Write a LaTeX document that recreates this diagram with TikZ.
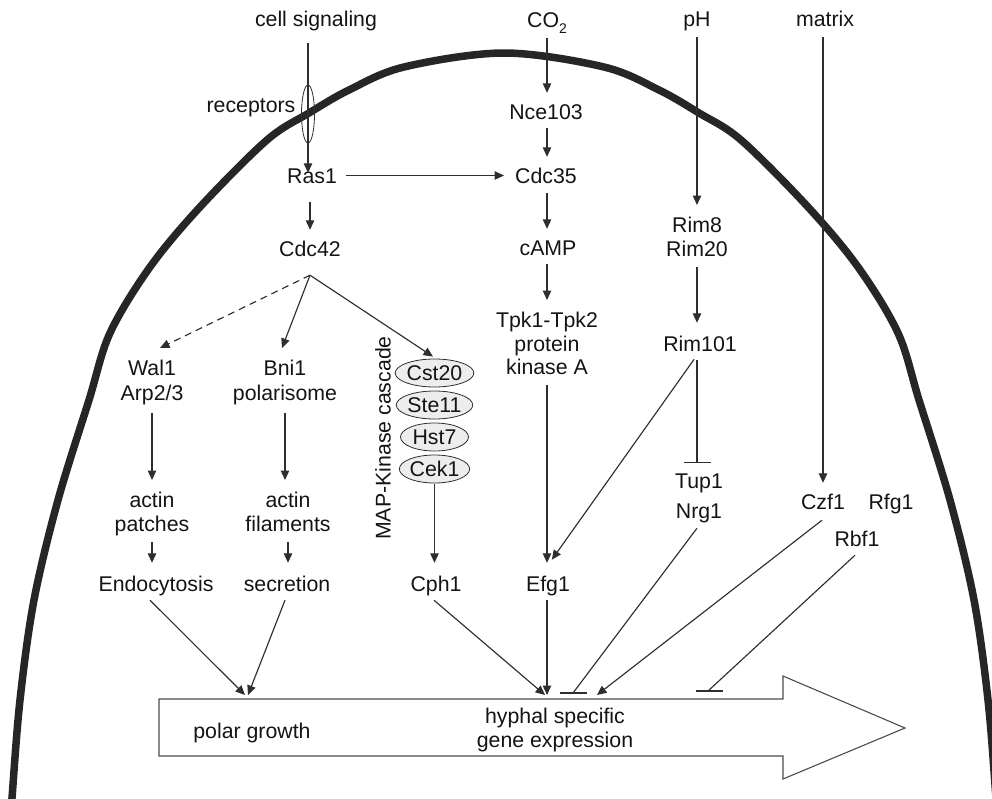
\documentclass[tikz,border=0pt]{standalone}
\usepackage{fontspec}
\setmainfont{Liberation Sans}
\usetikzlibrary{arrows.meta,shapes.geometric}
\newcommand\fsz{\fontsize{21.3}{23.5}\selectfont}
\definecolor{ink}{HTML}{2E2E2E}
\begin{document}
\begin{tikzpicture}[x=1pt,y=-1pt,
  txt/.style={font=\fsz, inner sep=0pt, text height=15pt, text depth=4pt, anchor=base, text=black!92},
  mtxt/.style={font=\fsz, inner sep=0pt, align=center, anchor=north, text=black!92},
  conn/.style={draw=ink, line width=1.15pt},
  arr/.style={conn, -{Triangle[length=9.5pt,width=8.5pt]}},
  inh/.style={conn, -{Bar[width=27pt]}},
  kin/.style={ellipse, draw=ink, line width=0.8pt, fill=black!7, minimum width=68pt, minimum height=28pt, inner sep=0pt, font=\fsz, text=black!92},
  membrane/.style={line width=7.5pt, black!85}
]
\useasboundingbox (0,0) rectangle (992,798);
% cell outline
\begin{scope}
\clip (0,0) rectangle (992,798);
\draw[membrane] plot[smooth, tension=0.55] coordinates {(9,840) (12,798) (20,700) (34,600) (58,500) (89,400) (110,333) (150,267) (200,207) (267,140) (309,113) (349,90) (404,67) (504,53) (604,67) (659,90) (699,113) (741,140) (808,207) (858,267) (898,333) (919,400) (950,500) (974,600) (988,700) (996,798) (999,840)};
\end{scope}

% big arrow
\draw[draw=black!70, line width=1.1pt, fill=white] (159,699) -- (783,699) -- (783,676) -- (905,728) -- (783,779) -- (783,756) -- (159,756) -- cycle;

% nodes
\node[txt] (cs) at (316,26) {cell signaling};
\node[txt] (co2) at (547,27) {CO\raisebox{-6pt}{\fontsize{14}{14}\selectfont 2}};
\node[txt] (ph) at (697,26) {pH};
\node[txt] (mat) at (825,26) {matrix};
\node[draw=ink, line width=0.8pt, ellipse, minimum width=13pt, minimum height=58pt, inner sep=0pt] (rec) at (308,114) {};
\node[txt] (recl) at (251,112) {receptors};
\node[txt] (ras) at (312,183) {Ras1};
\node[txt] (nce) at (546,119) {Nce103};
\node[txt] (cdc35) at (546,183) {Cdc35};
\node[txt] (cdc42) at (310,256) {Cdc42};
\node[txt] (camp) at (548,255) {cAMP};
\node[mtxt] (rim8) at (697,217) {Rim8\\Rim20};
\node[mtxt] (tpk) at (547,312) {Tpk1-Tpk2\\protein\\kinase A};
\node[txt] (rim101) at (700,351) {Rim101};
\node[mtxt] (wal) at (152,360) {Wal1\\[1.5pt]Arp2/3};
\node[mtxt] (bni) at (285,360) {Bni1\\[1.5pt]polarisome};
\node[kin] (cst) at (434.5,373) {Cst20};
\node[kin] (ste) at (434.5,405) {Ste11};
\node[kin] (hst) at (434.5,437) {Hst7};
\node[kin] (cek) at (434.5,469) {Cek1};
\node[font=\fsz, rotate=90, inner sep=0pt, text=black!92] (mapk) at (383,438) {MAP-Kinase cascade};
\node[mtxt] (actL) at (152,492) {actin\\patches};
\node[mtxt] (actR) at (288,492) {actin\\filaments};
\node[txt] (endo) at (156,591) {Endocytosis};
\node[txt] (sec) at (287,591) {secretion};
\node[txt] (cph) at (436,591) {Cph1};
\node[txt] (efg) at (548,591) {Efg1};
\node[txt] (tup) at (699,488) {Tup1};
\node[txt] (nrg) at (699,518) {Nrg1};
\node[txt] (czf) at (823,509) {Czf1};
\node[txt] (rfg) at (891,509) {Rfg1};
\node[txt] (rbf) at (857,546) {Rbf1};
\node[txt] (pg) at (252,738) {polar growth};
\node[mtxt] (hy) at (555,708) {hyphal specific\\gene expression};

% target points on the big arrow
\coordinate (pgA) at (245,695);
\coordinate (pgB) at (248,695);
\coordinate (hyA) at (545,695);
\coordinate (hyB) at (547,695);
\coordinate (hyN) at (573,693);
\coordinate (hyC) at (597,695);
\coordinate (hyR) at (708,691);

% connectors
\draw[arr, shorten <=13pt, shorten >=-5pt] (cs.south -| rec) -- (ras.north -| rec);
\draw[arr, shorten <=15pt, shorten >=11pt] (ras.south -| cdc42) -- (cdc42.north);
\draw[arr, shorten <=9pt, shorten >=11pt] ([yshift=2pt]ras.east) -- ([yshift=2pt]cdc35.west);
\draw[arr, shorten <=7pt, shorten >=11pt] (co2.south) -- (nce.north -| co2);
\draw[arr, shorten <=5pt, shorten >=11pt] (nce.south -| co2) -- (cdc35.north -| co2);
\draw[arr, shorten <=6pt, shorten >=11pt] (cdc35.south -| co2) -- (camp.north -| co2);
\draw[arr, shorten <=5pt, shorten >=12pt] (camp.south -| co2) -- (tpk.north -| co2);
\draw[arr, shorten <=10pt, shorten >=13pt] (tpk.south -| co2) -- (efg.north -| co2);
\draw[arr, shorten <=7pt, shorten >=12pt] (ph.south) -- (rim8.north);
\draw[arr, shorten <=10pt, shorten >=13pt] (rim8.south) -- (rim101.north -| rim8);
\draw[inh, shorten <=5pt, shorten >=10pt] (rim101.south -| rim8) -- (tup.north -| rim8);
\draw[arr, shorten <=5pt, shorten >=19.8pt] (rim101.south -| rim8) -- ([xshift=-7.6pt]efg.north);
\draw[arr, shorten <=7pt, shorten >=11pt] (mat.south -| czf) -- (czf.north);

\draw[arr, dash pattern=on 7pt off 5pt] ([yshift=-15pt]cdc42.south) -- ([xshift=8pt,yshift=12pt]wal.north);
\draw[arr] ([yshift=-15pt]cdc42.south) -- ([xshift=-3pt,yshift=12pt]bni.north);
\draw[arr] ([yshift=-15pt]cdc42.south) -- ([xshift=-1.5pt,yshift=2pt]cst.north);

\draw[arr, shorten <=8pt, shorten >=12pt] (wal.south) -- (actL.north);
\draw[arr, shorten <=8pt, shorten >=12pt] (bni.south) -- (actR.north -| bni);
\draw[arr, shorten <=6pt, shorten >=13pt] (actL.south) -- (endo.north -| actL);
\draw[arr, shorten <=10pt, shorten >=13pt] (actR.south) -- (sec.north -| actR);
\draw[arr, shorten <=1pt, shorten >=13pt] (cek.south) -- (cph.north -| cek);

\draw[arr] ([xshift=-6pt,yshift=-5pt]endo.south) -- (pgA);
\draw[arr] ([xshift=-2pt,yshift=-5pt]sec.south) -- (pgB);
\draw[arr] ([xshift=-2pt,yshift=-5pt]cph.south) -- (hyA);
\draw[arr] ([xshift=-1pt,yshift=-5pt]efg.south) -- (hyB);
\draw[conn] ([xshift=-2pt,yshift=-6pt]nrg.south) -- (hyN);
\draw[conn] ([xshift=-13.5pt]hyN) -- ([xshift=13.5pt]hyN);
\draw[arr] ([xshift=-1pt,yshift=-7pt]czf.south) -- (hyC);
\draw[conn] ([xshift=-2pt,yshift=-5pt]rbf.south) -- (hyR);
\draw[conn] ([xshift=-12pt]hyR) -- ([xshift=15pt]hyR);
\end{tikzpicture}
\end{document}
